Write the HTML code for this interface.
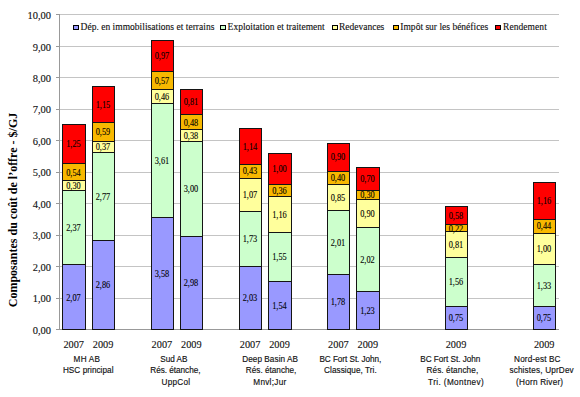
<!DOCTYPE html><html><head><meta charset="utf-8"><style>html,body{margin:0;padding:0;background:#fff;width:580px;height:397px;overflow:hidden}svg{position:absolute;left:0;top:0}</style></head><body>
<svg width="580" height="397" viewBox="0 0 580 397">
<line x1="59" y1="298.5" x2="559" y2="298.5" stroke="#c4c4c4" stroke-width="1"/>
<line x1="59" y1="266.5" x2="559" y2="266.5" stroke="#c4c4c4" stroke-width="1"/>
<line x1="59" y1="235.5" x2="559" y2="235.5" stroke="#c4c4c4" stroke-width="1"/>
<line x1="59" y1="203.5" x2="559" y2="203.5" stroke="#c4c4c4" stroke-width="1"/>
<line x1="59" y1="172.5" x2="559" y2="172.5" stroke="#c4c4c4" stroke-width="1"/>
<line x1="59" y1="140.5" x2="559" y2="140.5" stroke="#c4c4c4" stroke-width="1"/>
<line x1="59" y1="109.5" x2="559" y2="109.5" stroke="#c4c4c4" stroke-width="1"/>
<line x1="59" y1="77.5" x2="559" y2="77.5" stroke="#c4c4c4" stroke-width="1"/>
<line x1="59" y1="46.5" x2="559" y2="46.5" stroke="#c4c4c4" stroke-width="1"/>
<line x1="59" y1="14.5" x2="559" y2="14.5" stroke="#c4c4c4" stroke-width="1"/>
<line x1="59.5" y1="14" x2="59.5" y2="330" stroke="#999" stroke-width="1"/>
<line x1="56" y1="329.5" x2="559" y2="329.5" stroke="#999" stroke-width="1"/>
<line x1="56" y1="329.5" x2="59" y2="329.5" stroke="#999" stroke-width="1"/>
<text font-family="'Liberation Serif', serif" x="51" y="333.6" font-size="10.5" text-anchor="end" fill="#111" stroke="#111" stroke-width="0.12">0,00</text>
<line x1="56" y1="298.5" x2="59" y2="298.5" stroke="#999" stroke-width="1"/>
<text font-family="'Liberation Serif', serif" x="51" y="302.1" font-size="10.5" text-anchor="end" fill="#111" stroke="#111" stroke-width="0.12">1,00</text>
<line x1="56" y1="266.5" x2="59" y2="266.5" stroke="#999" stroke-width="1"/>
<text font-family="'Liberation Serif', serif" x="51" y="270.7" font-size="10.5" text-anchor="end" fill="#111" stroke="#111" stroke-width="0.12">2,00</text>
<line x1="56" y1="235.5" x2="59" y2="235.5" stroke="#999" stroke-width="1"/>
<text font-family="'Liberation Serif', serif" x="51" y="239.2" font-size="10.5" text-anchor="end" fill="#111" stroke="#111" stroke-width="0.12">3,00</text>
<line x1="56" y1="203.5" x2="59" y2="203.5" stroke="#999" stroke-width="1"/>
<text font-family="'Liberation Serif', serif" x="51" y="207.8" font-size="10.5" text-anchor="end" fill="#111" stroke="#111" stroke-width="0.12">4,00</text>
<line x1="56" y1="172.5" x2="59" y2="172.5" stroke="#999" stroke-width="1"/>
<text font-family="'Liberation Serif', serif" x="51" y="176.3" font-size="10.5" text-anchor="end" fill="#111" stroke="#111" stroke-width="0.12">5,00</text>
<line x1="56" y1="140.5" x2="59" y2="140.5" stroke="#999" stroke-width="1"/>
<text font-family="'Liberation Serif', serif" x="51" y="144.8" font-size="10.5" text-anchor="end" fill="#111" stroke="#111" stroke-width="0.12">6,00</text>
<line x1="56" y1="109.5" x2="59" y2="109.5" stroke="#999" stroke-width="1"/>
<text font-family="'Liberation Serif', serif" x="51" y="113.4" font-size="10.5" text-anchor="end" fill="#111" stroke="#111" stroke-width="0.12">7,00</text>
<line x1="56" y1="77.5" x2="59" y2="77.5" stroke="#999" stroke-width="1"/>
<text font-family="'Liberation Serif', serif" x="51" y="81.9" font-size="10.5" text-anchor="end" fill="#111" stroke="#111" stroke-width="0.12">8,00</text>
<line x1="56" y1="46.5" x2="59" y2="46.5" stroke="#999" stroke-width="1"/>
<text font-family="'Liberation Serif', serif" x="51" y="50.5" font-size="10.5" text-anchor="end" fill="#111" stroke="#111" stroke-width="0.12">9,00</text>
<line x1="56" y1="14.5" x2="59" y2="14.5" stroke="#999" stroke-width="1"/>
<text font-family="'Liberation Serif', serif" x="51" y="19.0" font-size="10.5" text-anchor="end" fill="#111" stroke="#111" stroke-width="0.12">10,00</text>
<rect x="62.5" y="264.5" width="23" height="65.0" fill="#9999ff" stroke="#141414" stroke-width="1"/>
<text font-family="'Liberation Serif', serif" x="66.20" y="300.5" font-size="9.3" textLength="14.6" lengthAdjust="spacingAndGlyphs" fill="#000" stroke="#000" stroke-width="0.1">2,07</text>
<rect x="62.5" y="190.5" width="23" height="74.0" fill="#ccffcc" stroke="#141414" stroke-width="1"/>
<text font-family="'Liberation Serif', serif" x="66.20" y="230.7" font-size="9.3" textLength="14.6" lengthAdjust="spacingAndGlyphs" fill="#000" stroke="#000" stroke-width="0.1">2,37</text>
<rect x="62.5" y="180.5" width="23" height="10.0" fill="#ffff9c" stroke="#141414" stroke-width="1"/>
<text font-family="'Liberation Serif', serif" x="66.20" y="188.7" font-size="9.3" textLength="14.6" lengthAdjust="spacingAndGlyphs" fill="#000" stroke="#000" stroke-width="0.1">0,30</text>
<rect x="62.5" y="163.5" width="23" height="17.0" fill="#f8b800" stroke="#141414" stroke-width="1"/>
<text font-family="'Liberation Serif', serif" x="66.20" y="175.5" font-size="9.3" textLength="14.6" lengthAdjust="spacingAndGlyphs" fill="#000" stroke="#000" stroke-width="0.1">0,54</text>
<rect x="62.5" y="124.5" width="23" height="39.0" fill="#ff0000" stroke="#141414" stroke-width="1"/>
<text font-family="'Liberation Serif', serif" x="66.20" y="147.3" font-size="9.3" textLength="14.6" lengthAdjust="spacingAndGlyphs" fill="#000" stroke="#000" stroke-width="0.1">1,25</text>
<rect x="92.5" y="240.5" width="22" height="89.0" fill="#9999ff" stroke="#141414" stroke-width="1"/>
<text font-family="'Liberation Serif', serif" x="95.70" y="288.1" font-size="9.3" textLength="14.6" lengthAdjust="spacingAndGlyphs" fill="#000" stroke="#000" stroke-width="0.1">2,86</text>
<rect x="92.5" y="152.5" width="22" height="88.0" fill="#ccffcc" stroke="#141414" stroke-width="1"/>
<text font-family="'Liberation Serif', serif" x="95.70" y="199.6" font-size="9.3" textLength="14.6" lengthAdjust="spacingAndGlyphs" fill="#000" stroke="#000" stroke-width="0.1">2,77</text>
<rect x="92.5" y="141.5" width="22" height="11.0" fill="#ffff9c" stroke="#141414" stroke-width="1"/>
<text font-family="'Liberation Serif', serif" x="95.70" y="150.2" font-size="9.3" textLength="14.6" lengthAdjust="spacingAndGlyphs" fill="#000" stroke="#000" stroke-width="0.1">0,37</text>
<rect x="92.5" y="122.5" width="22" height="19.0" fill="#f8b800" stroke="#141414" stroke-width="1"/>
<text font-family="'Liberation Serif', serif" x="95.70" y="135.1" font-size="9.3" textLength="14.6" lengthAdjust="spacingAndGlyphs" fill="#000" stroke="#000" stroke-width="0.1">0,59</text>
<rect x="92.5" y="86.5" width="22" height="36.0" fill="#ff0000" stroke="#141414" stroke-width="1"/>
<text font-family="'Liberation Serif', serif" x="95.70" y="107.7" font-size="9.3" textLength="14.6" lengthAdjust="spacingAndGlyphs" fill="#000" stroke="#000" stroke-width="0.1">1,15</text>
<rect x="151.5" y="217.5" width="22" height="112.0" fill="#9999ff" stroke="#141414" stroke-width="1"/>
<text font-family="'Liberation Serif', serif" x="154.70" y="276.8" font-size="9.3" textLength="14.6" lengthAdjust="spacingAndGlyphs" fill="#000" stroke="#000" stroke-width="0.1">3,58</text>
<rect x="151.5" y="103.5" width="22" height="114.0" fill="#ccffcc" stroke="#141414" stroke-width="1"/>
<text font-family="'Liberation Serif', serif" x="154.70" y="163.7" font-size="9.3" textLength="14.6" lengthAdjust="spacingAndGlyphs" fill="#000" stroke="#000" stroke-width="0.1">3,61</text>
<rect x="151.5" y="89.5" width="22" height="14.0" fill="#ffff9c" stroke="#141414" stroke-width="1"/>
<text font-family="'Liberation Serif', serif" x="154.70" y="99.7" font-size="9.3" textLength="14.6" lengthAdjust="spacingAndGlyphs" fill="#000" stroke="#000" stroke-width="0.1">0,46</text>
<rect x="151.5" y="71.5" width="22" height="18.0" fill="#f8b800" stroke="#141414" stroke-width="1"/>
<text font-family="'Liberation Serif', serif" x="154.70" y="83.5" font-size="9.3" textLength="14.6" lengthAdjust="spacingAndGlyphs" fill="#000" stroke="#000" stroke-width="0.1">0,57</text>
<rect x="151.5" y="40.5" width="22" height="31.0" fill="#ff0000" stroke="#141414" stroke-width="1"/>
<text font-family="'Liberation Serif', serif" x="154.70" y="59.2" font-size="9.3" textLength="14.6" lengthAdjust="spacingAndGlyphs" fill="#000" stroke="#000" stroke-width="0.1">0,97</text>
<rect x="180.5" y="236.5" width="22" height="93.0" fill="#9999ff" stroke="#141414" stroke-width="1"/>
<text font-family="'Liberation Serif', serif" x="183.70" y="286.2" font-size="9.3" textLength="14.6" lengthAdjust="spacingAndGlyphs" fill="#000" stroke="#000" stroke-width="0.1">2,98</text>
<rect x="180.5" y="141.5" width="22" height="95.0" fill="#ccffcc" stroke="#141414" stroke-width="1"/>
<text font-family="'Liberation Serif', serif" x="183.70" y="192.2" font-size="9.3" textLength="14.6" lengthAdjust="spacingAndGlyphs" fill="#000" stroke="#000" stroke-width="0.1">3,00</text>
<rect x="180.5" y="129.5" width="22" height="12.0" fill="#ffff9c" stroke="#141414" stroke-width="1"/>
<text font-family="'Liberation Serif', serif" x="183.70" y="139.0" font-size="9.3" textLength="14.6" lengthAdjust="spacingAndGlyphs" fill="#000" stroke="#000" stroke-width="0.1">0,38</text>
<rect x="180.5" y="114.5" width="22" height="15.0" fill="#f8b800" stroke="#141414" stroke-width="1"/>
<text font-family="'Liberation Serif', serif" x="183.70" y="125.5" font-size="9.3" textLength="14.6" lengthAdjust="spacingAndGlyphs" fill="#000" stroke="#000" stroke-width="0.1">0,48</text>
<rect x="180.5" y="89.5" width="22" height="25.0" fill="#ff0000" stroke="#141414" stroke-width="1"/>
<text font-family="'Liberation Serif', serif" x="183.70" y="105.2" font-size="9.3" textLength="14.6" lengthAdjust="spacingAndGlyphs" fill="#000" stroke="#000" stroke-width="0.1">0,81</text>
<rect x="239.5" y="266.5" width="22" height="63.0" fill="#9999ff" stroke="#141414" stroke-width="1"/>
<text font-family="'Liberation Serif', serif" x="242.70" y="301.2" font-size="9.3" textLength="14.6" lengthAdjust="spacingAndGlyphs" fill="#000" stroke="#000" stroke-width="0.1">2,03</text>
<rect x="239.5" y="211.5" width="22" height="55.0" fill="#ccffcc" stroke="#141414" stroke-width="1"/>
<text font-family="'Liberation Serif', serif" x="242.70" y="242.0" font-size="9.3" textLength="14.6" lengthAdjust="spacingAndGlyphs" fill="#000" stroke="#000" stroke-width="0.1">1,73</text>
<rect x="239.5" y="178.5" width="22" height="33.0" fill="#ffff9c" stroke="#141414" stroke-width="1"/>
<text font-family="'Liberation Serif', serif" x="242.70" y="198.0" font-size="9.3" textLength="14.6" lengthAdjust="spacingAndGlyphs" fill="#000" stroke="#000" stroke-width="0.1">1,07</text>
<rect x="239.5" y="164.5" width="22" height="14.0" fill="#f8b800" stroke="#141414" stroke-width="1"/>
<text font-family="'Liberation Serif', serif" x="242.70" y="174.4" font-size="9.3" textLength="14.6" lengthAdjust="spacingAndGlyphs" fill="#000" stroke="#000" stroke-width="0.1">0,43</text>
<rect x="239.5" y="128.5" width="22" height="36.0" fill="#ff0000" stroke="#141414" stroke-width="1"/>
<text font-family="'Liberation Serif', serif" x="242.70" y="149.7" font-size="9.3" textLength="14.6" lengthAdjust="spacingAndGlyphs" fill="#000" stroke="#000" stroke-width="0.1">1,14</text>
<rect x="268.5" y="281.5" width="23" height="48.0" fill="#9999ff" stroke="#141414" stroke-width="1"/>
<text font-family="'Liberation Serif', serif" x="272.20" y="308.9" font-size="9.3" textLength="14.6" lengthAdjust="spacingAndGlyphs" fill="#000" stroke="#000" stroke-width="0.1">1,54</text>
<rect x="268.5" y="232.5" width="23" height="49.0" fill="#ccffcc" stroke="#141414" stroke-width="1"/>
<text font-family="'Liberation Serif', serif" x="272.20" y="260.3" font-size="9.3" textLength="14.6" lengthAdjust="spacingAndGlyphs" fill="#000" stroke="#000" stroke-width="0.1">1,55</text>
<rect x="268.5" y="196.5" width="23" height="36.0" fill="#ffff9c" stroke="#141414" stroke-width="1"/>
<text font-family="'Liberation Serif', serif" x="272.20" y="217.6" font-size="9.3" textLength="14.6" lengthAdjust="spacingAndGlyphs" fill="#000" stroke="#000" stroke-width="0.1">1,16</text>
<rect x="268.5" y="184.5" width="23" height="12.0" fill="#f8b800" stroke="#141414" stroke-width="1"/>
<text font-family="'Liberation Serif', serif" x="272.20" y="193.7" font-size="9.3" textLength="14.6" lengthAdjust="spacingAndGlyphs" fill="#000" stroke="#000" stroke-width="0.1">0,36</text>
<rect x="268.5" y="153.5" width="23" height="31.0" fill="#ff0000" stroke="#141414" stroke-width="1"/>
<text font-family="'Liberation Serif', serif" x="272.20" y="172.3" font-size="9.3" textLength="14.6" lengthAdjust="spacingAndGlyphs" fill="#000" stroke="#000" stroke-width="0.1">1,00</text>
<rect x="327.5" y="274.5" width="22" height="55.0" fill="#9999ff" stroke="#141414" stroke-width="1"/>
<text font-family="'Liberation Serif', serif" x="330.70" y="305.1" font-size="9.3" textLength="14.6" lengthAdjust="spacingAndGlyphs" fill="#000" stroke="#000" stroke-width="0.1">1,78</text>
<rect x="327.5" y="210.5" width="22" height="64.0" fill="#ccffcc" stroke="#141414" stroke-width="1"/>
<text font-family="'Liberation Serif', serif" x="330.70" y="245.5" font-size="9.3" textLength="14.6" lengthAdjust="spacingAndGlyphs" fill="#000" stroke="#000" stroke-width="0.1">2,01</text>
<rect x="327.5" y="184.5" width="22" height="26.0" fill="#ffff9c" stroke="#141414" stroke-width="1"/>
<text font-family="'Liberation Serif', serif" x="330.70" y="200.5" font-size="9.3" textLength="14.6" lengthAdjust="spacingAndGlyphs" fill="#000" stroke="#000" stroke-width="0.1">0,85</text>
<rect x="327.5" y="171.5" width="22" height="13.0" fill="#f8b800" stroke="#141414" stroke-width="1"/>
<text font-family="'Liberation Serif', serif" x="330.70" y="180.8" font-size="9.3" textLength="14.6" lengthAdjust="spacingAndGlyphs" fill="#000" stroke="#000" stroke-width="0.1">0,40</text>
<rect x="327.5" y="143.5" width="22" height="28.0" fill="#ff0000" stroke="#141414" stroke-width="1"/>
<text font-family="'Liberation Serif', serif" x="330.70" y="160.4" font-size="9.3" textLength="14.6" lengthAdjust="spacingAndGlyphs" fill="#000" stroke="#000" stroke-width="0.1">0,90</text>
<rect x="356.5" y="291.5" width="23" height="38.0" fill="#9999ff" stroke="#141414" stroke-width="1"/>
<text font-family="'Liberation Serif', serif" x="360.20" y="313.8" font-size="9.3" textLength="14.6" lengthAdjust="spacingAndGlyphs" fill="#000" stroke="#000" stroke-width="0.1">1,23</text>
<rect x="356.5" y="227.5" width="23" height="64.0" fill="#ccffcc" stroke="#141414" stroke-width="1"/>
<text font-family="'Liberation Serif', serif" x="360.20" y="262.6" font-size="9.3" textLength="14.6" lengthAdjust="spacingAndGlyphs" fill="#000" stroke="#000" stroke-width="0.1">2,02</text>
<rect x="356.5" y="199.5" width="23" height="28.0" fill="#ffff9c" stroke="#141414" stroke-width="1"/>
<text font-family="'Liberation Serif', serif" x="360.20" y="216.7" font-size="9.3" textLength="14.6" lengthAdjust="spacingAndGlyphs" fill="#000" stroke="#000" stroke-width="0.1">0,90</text>
<rect x="356.5" y="190.5" width="23" height="9.0" fill="#f8b800" stroke="#141414" stroke-width="1"/>
<text font-family="'Liberation Serif', serif" x="360.20" y="197.8" font-size="9.3" textLength="14.6" lengthAdjust="spacingAndGlyphs" fill="#000" stroke="#000" stroke-width="0.1">0,30</text>
<rect x="356.5" y="167.5" width="23" height="23.0" fill="#ff0000" stroke="#141414" stroke-width="1"/>
<text font-family="'Liberation Serif', serif" x="360.20" y="182.1" font-size="9.3" textLength="14.6" lengthAdjust="spacingAndGlyphs" fill="#000" stroke="#000" stroke-width="0.1">0,70</text>
<rect x="445.5" y="306.5" width="22" height="23.0" fill="#9999ff" stroke="#141414" stroke-width="1"/>
<text font-family="'Liberation Serif', serif" x="448.70" y="321.3" font-size="9.3" textLength="14.6" lengthAdjust="spacingAndGlyphs" fill="#000" stroke="#000" stroke-width="0.1">0,75</text>
<rect x="445.5" y="257.5" width="22" height="49.0" fill="#ccffcc" stroke="#141414" stroke-width="1"/>
<text font-family="'Liberation Serif', serif" x="448.70" y="285.0" font-size="9.3" textLength="14.6" lengthAdjust="spacingAndGlyphs" fill="#000" stroke="#000" stroke-width="0.1">1,56</text>
<rect x="445.5" y="231.5" width="22" height="26.0" fill="#ffff9c" stroke="#141414" stroke-width="1"/>
<text font-family="'Liberation Serif', serif" x="448.70" y="247.7" font-size="9.3" textLength="14.6" lengthAdjust="spacingAndGlyphs" fill="#000" stroke="#000" stroke-width="0.1">0,81</text>
<rect x="445.5" y="224.5" width="22" height="7.0" fill="#f8b800" stroke="#141414" stroke-width="1"/>
<text font-family="'Liberation Serif', serif" x="448.70" y="231.5" font-size="9.3" textLength="14.6" lengthAdjust="spacingAndGlyphs" fill="#000" stroke="#000" stroke-width="0.1">0,22</text>
<rect x="445.5" y="206.5" width="22" height="18.0" fill="#ff0000" stroke="#141414" stroke-width="1"/>
<text font-family="'Liberation Serif', serif" x="448.70" y="218.9" font-size="9.3" textLength="14.6" lengthAdjust="spacingAndGlyphs" fill="#000" stroke="#000" stroke-width="0.1">0,58</text>
<rect x="533.5" y="306.5" width="22" height="23.0" fill="#9999ff" stroke="#141414" stroke-width="1"/>
<text font-family="'Liberation Serif', serif" x="536.70" y="321.3" font-size="9.3" textLength="14.6" lengthAdjust="spacingAndGlyphs" fill="#000" stroke="#000" stroke-width="0.1">0,75</text>
<rect x="533.5" y="264.5" width="22" height="42.0" fill="#ccffcc" stroke="#141414" stroke-width="1"/>
<text font-family="'Liberation Serif', serif" x="536.70" y="288.6" font-size="9.3" textLength="14.6" lengthAdjust="spacingAndGlyphs" fill="#000" stroke="#000" stroke-width="0.1">1,33</text>
<rect x="533.5" y="233.5" width="22" height="31.0" fill="#ffff9c" stroke="#141414" stroke-width="1"/>
<text font-family="'Liberation Serif', serif" x="536.70" y="251.9" font-size="9.3" textLength="14.6" lengthAdjust="spacingAndGlyphs" fill="#000" stroke="#000" stroke-width="0.1">1,00</text>
<rect x="533.5" y="219.5" width="22" height="14.0" fill="#f8b800" stroke="#141414" stroke-width="1"/>
<text font-family="'Liberation Serif', serif" x="536.70" y="229.3" font-size="9.3" textLength="14.6" lengthAdjust="spacingAndGlyphs" fill="#000" stroke="#000" stroke-width="0.1">0,44</text>
<rect x="533.5" y="182.5" width="22" height="37.0" fill="#ff0000" stroke="#141414" stroke-width="1"/>
<text font-family="'Liberation Serif', serif" x="536.70" y="204.1" font-size="9.3" textLength="14.6" lengthAdjust="spacingAndGlyphs" fill="#000" stroke="#000" stroke-width="0.1">1,16</text>
<rect x="73.5" y="25.5" width="5" height="4" fill="#9999ff" stroke="#000" stroke-width="1"/>
<text font-family="'Liberation Serif', serif" x="80.5" y="30" font-size="9.5" textLength="133.9" lengthAdjust="spacing" fill="#111" stroke="#111" stroke-width="0.12">Dép. en immobilisations et terrains</text>
<rect x="220.5" y="25.5" width="5" height="4" fill="#ccffcc" stroke="#000" stroke-width="1"/>
<text font-family="'Liberation Serif', serif" x="227.6" y="30" font-size="9.5" textLength="97.1" lengthAdjust="spacing" fill="#111" stroke="#111" stroke-width="0.12">Exploitation et traitement</text>
<rect x="332.5" y="25.5" width="5" height="4" fill="#ffff9c" stroke="#000" stroke-width="1"/>
<text font-family="'Liberation Serif', serif" x="339.0" y="30" font-size="9.5" textLength="45.3" lengthAdjust="spacing" fill="#111" stroke="#111" stroke-width="0.12">Redevances</text>
<rect x="393.5" y="25.5" width="5" height="4" fill="#f8b800" stroke="#000" stroke-width="1"/>
<text font-family="'Liberation Serif', serif" x="400.3" y="30" font-size="9.5" textLength="88.0" lengthAdjust="spacing" fill="#111" stroke="#111" stroke-width="0.12">Impôt sur les bénéfices</text>
<rect x="495.5" y="25.5" width="5" height="4" fill="#ff0000" stroke="#000" stroke-width="1"/>
<text font-family="'Liberation Serif', serif" x="503.0" y="30" font-size="9.5" textLength="43.8" lengthAdjust="spacing" fill="#111" stroke="#111" stroke-width="0.12">Rendement</text>
<text font-family="'Liberation Serif', serif" transform="translate(17,210) rotate(-90)" font-size="12" font-weight="bold" text-anchor="middle" fill="#000">Composantes du coût de l’offre - $/GJ</text>
<text font-family="'Liberation Serif', serif" x="63.4" y="348.3" font-size="10.5" textLength="20.6" lengthAdjust="spacingAndGlyphs" fill="#111" stroke="#111" stroke-width="0.12">2007</text>
<text font-family="'Liberation Serif', serif" x="92.8" y="348.3" font-size="10.5" textLength="20.6" lengthAdjust="spacingAndGlyphs" fill="#111" stroke="#111" stroke-width="0.12">2009</text>
<text font-family="'Liberation Serif', serif" x="151.6" y="348.3" font-size="10.5" textLength="20.6" lengthAdjust="spacingAndGlyphs" fill="#111" stroke="#111" stroke-width="0.12">2007</text>
<text font-family="'Liberation Serif', serif" x="181.0" y="348.3" font-size="10.5" textLength="20.6" lengthAdjust="spacingAndGlyphs" fill="#111" stroke="#111" stroke-width="0.12">2009</text>
<text font-family="'Liberation Serif', serif" x="239.8" y="348.3" font-size="10.5" textLength="20.6" lengthAdjust="spacingAndGlyphs" fill="#111" stroke="#111" stroke-width="0.12">2007</text>
<text font-family="'Liberation Serif', serif" x="269.2" y="348.3" font-size="10.5" textLength="20.6" lengthAdjust="spacingAndGlyphs" fill="#111" stroke="#111" stroke-width="0.12">2009</text>
<text font-family="'Liberation Serif', serif" x="328.1" y="348.3" font-size="10.5" textLength="20.6" lengthAdjust="spacingAndGlyphs" fill="#111" stroke="#111" stroke-width="0.12">2007</text>
<text font-family="'Liberation Serif', serif" x="357.5" y="348.3" font-size="10.5" textLength="20.6" lengthAdjust="spacingAndGlyphs" fill="#111" stroke="#111" stroke-width="0.12">2009</text>
<text font-family="'Liberation Serif', serif" x="445.7" y="348.3" font-size="10.5" textLength="20.6" lengthAdjust="spacingAndGlyphs" fill="#111" stroke="#111" stroke-width="0.12">2009</text>
<text font-family="'Liberation Serif', serif" x="533.9" y="348.3" font-size="10.5" textLength="20.6" lengthAdjust="spacingAndGlyphs" fill="#111" stroke="#111" stroke-width="0.12">2009</text>
<text font-family="'Liberation Sans', sans-serif" x="73.6" y="361.6" font-size="8.2" stroke="#111" stroke-width="0.15" textLength="26.4" lengthAdjust="spacing" fill="#111">MH AB</text>
<text font-family="'Liberation Sans', sans-serif" x="62.9" y="373.1" font-size="8.2" stroke="#111" stroke-width="0.15" textLength="50.6" lengthAdjust="spacing" fill="#111">HSC principal</text>
<text font-family="'Liberation Sans', sans-serif" x="160.3" y="361.6" font-size="8.2" stroke="#111" stroke-width="0.15" textLength="27.2" lengthAdjust="spacing" fill="#111">Sud AB</text>
<text font-family="'Liberation Sans', sans-serif" x="150.3" y="373.1" font-size="8.2" stroke="#111" stroke-width="0.15" textLength="50.2" lengthAdjust="spacing" fill="#111">Rés. étanche,</text>
<text font-family="'Liberation Sans', sans-serif" x="161.6" y="384.6" font-size="8.2" stroke="#111" stroke-width="0.15" textLength="28.4" lengthAdjust="spacing" fill="#111">UppCol</text>
<text font-family="'Liberation Sans', sans-serif" x="242.2" y="361.6" font-size="8.2" stroke="#111" stroke-width="0.15" textLength="55.8" lengthAdjust="spacing" fill="#111">Deep Basin AB</text>
<text font-family="'Liberation Sans', sans-serif" x="245.8" y="373.1" font-size="8.2" stroke="#111" stroke-width="0.15" textLength="50.6" lengthAdjust="spacing" fill="#111">Rés. étanche,</text>
<text font-family="'Liberation Sans', sans-serif" x="253.3" y="384.6" font-size="8.2" stroke="#111" stroke-width="0.15" textLength="32.9" lengthAdjust="spacing" fill="#111">Mnvl;Jur</text>
<text font-family="'Liberation Sans', sans-serif" x="319.4" y="361.6" font-size="8.2" stroke="#111" stroke-width="0.15" textLength="62.0" lengthAdjust="spacing" fill="#111">BC Fort St. John,</text>
<text font-family="'Liberation Sans', sans-serif" x="324.1" y="373.1" font-size="8.2" stroke="#111" stroke-width="0.15" textLength="52.6" lengthAdjust="spacing" fill="#111">Classique, Tri.</text>
<text font-family="'Liberation Sans', sans-serif" x="420.3" y="361.6" font-size="8.2" stroke="#111" stroke-width="0.15" textLength="60.0" lengthAdjust="spacing" fill="#111">BC Fort St. John</text>
<text font-family="'Liberation Sans', sans-serif" x="426.5" y="373.1" font-size="8.2" stroke="#111" stroke-width="0.15" textLength="51.7" lengthAdjust="spacing" fill="#111">Rés. étanche,</text>
<text font-family="'Liberation Sans', sans-serif" x="428.1" y="384.6" font-size="8.2" stroke="#111" stroke-width="0.15" textLength="55.6" lengthAdjust="spacing" fill="#111">Tri. (Montnev)</text>
<text font-family="'Liberation Sans', sans-serif" x="514.1" y="361.6" font-size="8.2" stroke="#111" stroke-width="0.15" textLength="46.4" lengthAdjust="spacing" fill="#111">Nord-est BC</text>
<text font-family="'Liberation Sans', sans-serif" x="509.4" y="373.1" font-size="8.2" stroke="#111" stroke-width="0.15" textLength="64.3" lengthAdjust="spacing" fill="#111">schistes, UprDev</text>
<text font-family="'Liberation Sans', sans-serif" x="516.1" y="384.6" font-size="8.2" stroke="#111" stroke-width="0.15" textLength="47.0" lengthAdjust="spacing" fill="#111">(Horn River)</text>
</svg></body></html>
